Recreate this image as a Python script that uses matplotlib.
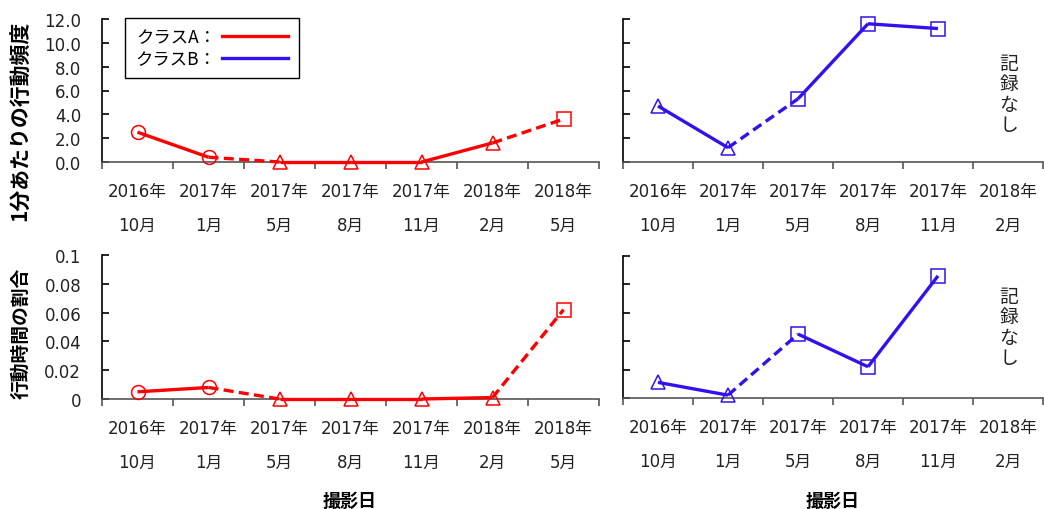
import matplotlib
matplotlib.use("Agg")
import matplotlib.pyplot as plt
from matplotlib.lines import Line2D

plt.rcParams['font.family'] = ['DejaVu Sans', 'Noto Sans CJK JP']

# 撮影日 labels
dates_a = ["2016年\n10月", "2017年\n1月", "2017年\n5月", "2017年\n8月",
           "2017年\n11月", "2018年\n2月", "2018年\n5月"]
dates_b = ["2016年\n10月", "2017年\n1月", "2017年\n5月", "2017年\n8月",
           "2017年\n11月", "2018年\n2月"]

# クラスA
freq_a = [2.5, 0.4, 0.0, 0.0, 0.0, 1.6, 3.6]
ratio_a = [0.005, 0.008, 0.0, 0.0, 0.0, 0.001, 0.062]
marks_a = ['o', 'o', '^', '^', '^', '^', 's']

# クラスB (no record for 2018/2)
freq_b = [4.7, 1.2, 5.3, 11.6, 11.2]
ratio_b = [0.011, 0.002, 0.045, 0.022, 0.086]
marks_b = ['^', '^', 's', 's', 's']

freq_ticks = [0, 2, 4, 6, 8, 10, 12]
ratio_ticks = [0, 0.02, 0.04, 0.06, 0.08, 0.1]
ratio_ticklabels = ["0", "0.02", "0.04", "0.06", "0.08", "0.1"]

RED = '#FF0000'
BLUE = '#3311EE'
CJK = ['Noto Sans CJK JP']

W, H = 1044, 510
fig = plt.figure(figsize=(W / 100, H / 100), dpi=100)


def box(x0, y0, x1, y1):
    return [x0 / W, 1 - y1 / H, (x1 - x0) / W, (y1 - y0) / H]


def draw_series(ax, y, marks, color):
    x = list(range(len(y)))
    for i in range(len(y) - 1):
        ls = '-' if marks[i] == marks[i + 1] else (0, (3, 1.6))
        ax.plot(x[i:i + 2], y[i:i + 2], color=color, lw=2.4, ls=ls,
                solid_capstyle='butt', dash_capstyle='butt', clip_on=False, zorder=3)
    for xi, yi, m in zip(x, y, marks):
        ax.plot([xi], [yi], marker=m, ms=10 if m != 's' else 9.5, mfc='none',
                mec=color, mew=1.1, ls='none', clip_on=False, zorder=4)


def style(ax, labels, yticks, ylim, ylabels):
    n = len(labels)
    ax.set_xlim(-0.5, n - 0.5)
    ax.set_ylim(*ylim)
    for s in ('top', 'right'):
        ax.spines[s].set_visible(False)
    ax.spines['left'].set_color('black')
    ax.spines['bottom'].set_color('#555555')
    ax.spines['left'].set_linewidth(1.2)
    ax.spines['bottom'].set_linewidth(1.2)
    ax.set_xticks([i - 0.5 for i in range(n + 1)])
    ax.set_xticklabels([])
    ax.set_xticks(range(n), minor=True)
    ax.set_xticklabels(labels, minor=True)
    ax.tick_params(axis='x', which='major', direction='out', length=5,
                   width=1.2, color='#555555')
    ax.tick_params(axis='x', which='minor', length=0, pad=14.5, labelsize=12,
                   labelcolor='#222222')
    for lbl in ax.get_xticklabels(minor=True):
        lbl.set_linespacing(2.15)
    ax.set_yticks(yticks)
    if ylabels is None:
        ax.set_yticklabels([])
    else:
        ax.set_yticklabels(ylabels)
    ax.tick_params(axis='y', direction='in', length=5, width=1.2,
                   pad=15, labelsize=12, labelcolor='#222222')


ax1 = fig.add_axes(box(102, 20, 599, 163))
ax2 = fig.add_axes(box(623, 20, 1043, 163))
ax3 = fig.add_axes(box(102, 256, 599, 400))
ax4 = fig.add_axes(box(623, 257, 1043, 399))

style(ax1, dates_a, freq_ticks, (0, 12), [f"{v:.1f}" for v in freq_ticks])
style(ax2, dates_b, freq_ticks, (0, 12), None)
style(ax3, dates_a, ratio_ticks, (0, 0.1), ratio_ticklabels)
style(ax4, dates_b, ratio_ticks, (0, 0.1), None)

draw_series(ax1, freq_a, marks_a, RED)
draw_series(ax2, freq_b, marks_b, BLUE)
draw_series(ax3, ratio_a, marks_a, RED)
draw_series(ax4, ratio_b, marks_b, BLUE)

# 記録なし for the last date of クラスB
for yc in (95, 328):
    fig.text(1009 / W, 1 - yc / H, "記\n録\nな\nし", ha='center', va='center',
             fontsize=13.5, linespacing=0.95, color='#222222', family=CJK)

fig.text(21 / W, 1 - 121 / H, "1分あたりの行動頻度", rotation=90, ha='center',
         va='center', fontsize=15, fontweight='bold', family=CJK)
fig.text(21 / W, 1 - 333 / H, "行動時間の割合", rotation=90, ha='center',
         va='center', fontsize=13.5, fontweight='bold', family=CJK)
fig.text(350 / W, 1 - 501 / H, "撮影日", ha='center', va='center',
         fontsize=13, fontweight='bold', family=CJK)
fig.text(833 / W, 1 - 501 / H, "撮影日", ha='center', va='center',
         fontsize=13, fontweight='bold', family=CJK)

handles = [Line2D([], [], color=RED, lw=2.4), Line2D([], [], color=BLUE, lw=2.4)]
leg = fig.legend(handles, ["クラスA：", "クラスB："], loc='upper left',
                 bbox_to_anchor=(125 / W, 1 - 19 / H), markerfirst=False,
                 fancybox=False, framealpha=1, edgecolor='black',
                 prop={'family': CJK, 'size': 12.5},
                 handlelength=3.8, handletextpad=0.35, labelspacing=0.2,
                 borderpad=0.6, borderaxespad=0)
leg.get_frame().set_linewidth(1.0)

fig.savefig("out.png", dpi=100)
